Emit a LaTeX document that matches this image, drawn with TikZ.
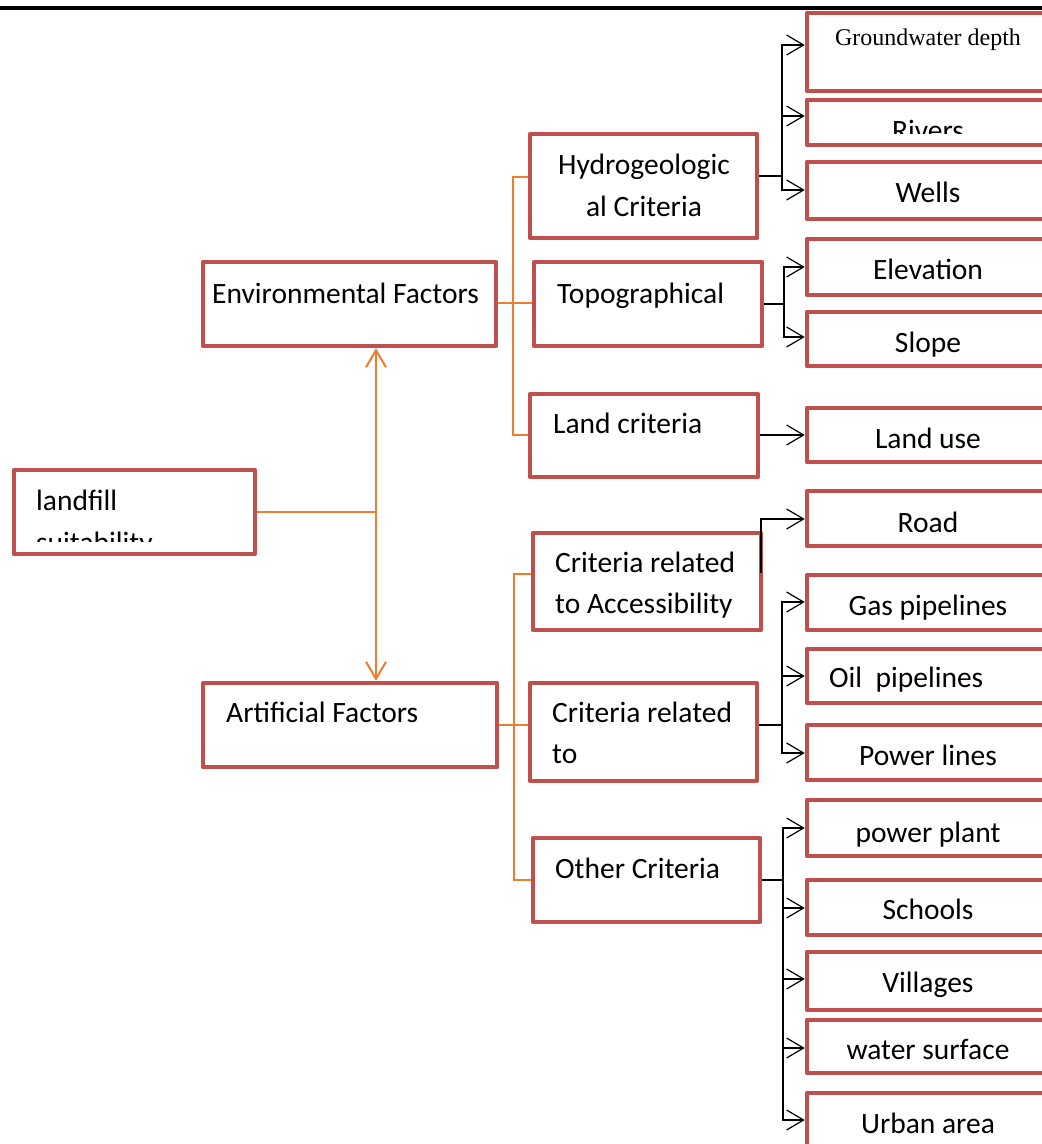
\documentclass[tikz,border=0pt]{standalone}
\usepackage{fontspec}
\setmainfont{Carlito}
\newfontfamily\serifgw{Liberation Serif}
\usetikzlibrary{arrows.meta,fit}
\definecolor{boxred}{HTML}{C0504D}
\definecolor{conorange}{HTML}{ED7D31}
\tikzset{
  box/.style={draw=boxred, line width=4.5pt, line join=round, inner sep=0pt},
  lbl/.style={inner sep=0pt, font=\fontsize{29.5}{35}\selectfont},
  bk/.style={draw=black, line width=1.5pt},
  orl/.style={draw=conorange, line width=2.4pt},
  opentip/.tip={Straight Barb[length=17pt,width=20pt,line width=1.2pt]},
  orangetip/.tip={Straight Barb[length=17pt,width=20pt,line width=2pt]},
}
\begin{document}
\begin{tikzpicture}[x=1pt,y=-1pt]
\clip (0,0) rectangle (1042,1144);
\fill[white] (0,0) rectangle (1042,1144);
\draw[line width=4pt] (0,8) -- (1042,8);

% main boxes
\node[box, fit={(14,470) (255,554)}] (lf) {};
\node[box, fit={(203,262) (496,346)}] (env) {};
\node[box, fit={(203,683) (497,767)}] (art) {};
\node[box, fit={(530,134) (757,238)}] (hyd) {};
\node[box, fit={(534,262) (762,346)}] (topo) {};
\node[box, fit={(530,394) (758,477)}] (land) {};
\node[box, fit={(533,533) (761,630)}] (acc) {};
\node[box, fit={(530,683) (757,781)}] (crit) {};
\node[box, fit={(533,838) (760,922)}] (oth) {};

% right boxes
\node[box, fit={(807,13) (1065,91)}] (gw) {};
\node[box, fit={(807,100) (1065,145)}] (riv) {};
\node[box, fit={(807,162) (1065,219)}] (wel) {};
\node[box, fit={(807,239) (1065,295)}] (ele) {};
\node[box, fit={(807,312) (1065,366)}] (slo) {};
\node[box, fit={(807,408) (1065,462)}] (lu) {};
\node[box, fit={(807,491) (1065,546)}] (road) {};
\node[box, fit={(807,575) (1065,630)}] (gas) {};
\node[box, fit={(807,649) (1065,703)}] (oil) {};
\node[box, fit={(807,725) (1065,780)}] (pow) {};
\node[box, fit={(807,800) (1065,856)}] (pp) {};
\node[box, fit={(807,880) (1065,935)}] (sch) {};
\node[box, fit={(807,952) (1065,1010)}] (vil) {};
\node[box, fit={(807,1020) (1065,1073)}] (ws) {};
\node[box, fit={(807,1093) (1065,1175)}] (ua) {};

% texts
\node[lbl, anchor=base west] (t1) at (36,510) {landfill};
\begin{scope}
\clip (0,0) rectangle (1042,541);
\node[lbl, anchor=base west] (t2) at (36,552) {suitability};
\end{scope}
\node[lbl, anchor=base west] (t3) at (212,303) {Environmental Factors};
\node[lbl, anchor=base west] (t4) at (226,722) {Artificial Factors};
\node[lbl, anchor=base] (t5) at (644,174) {Hydrogeologic};
\node[lbl, anchor=base] (t6) at (644,216) {al Criteria};
\node[lbl, anchor=base west] (t7) at (557,303) {Topographical};
\node[lbl, anchor=base west] (t8) at (553,433) {Land criteria};
\node[lbl, anchor=base west] (t9) at (555,572) {Criteria related};
\node[lbl, anchor=base west] (t10) at (555,613) {to Accessibility};
\node[lbl, anchor=base west] (t11) at (552,722) {Criteria related};
\node[lbl, anchor=base west] (t12) at (552,763) {to};
\node[lbl, anchor=base west] (t13) at (555,878) {Other Criteria};

\node[inner sep=0pt, anchor=base, font=\serifgw\fontsize{24}{28}\selectfont] (r1) at (928,45) {Groundwater depth};
\begin{scope}
\clip (0,0) rectangle (1042,133.3);
\node[lbl, anchor=base] (r2) at (928,140.5) {Rivers};
\end{scope}
\node[lbl, anchor=base] (r3) at (928,202) {Wells};
\node[lbl, anchor=base] (r4) at (928,279) {Elevation};
\node[lbl, anchor=base] (r5) at (928,352) {Slope};
\node[lbl, anchor=base] (r6) at (928,448) {Land use};
\node[lbl, anchor=base] (r7) at (928,532) {Road};
\node[lbl, anchor=base] (r8) at (928,615) {Gas pipelines};
\node[lbl, anchor=base west] (r9) at (829,687) {Oil\ \ pipelines};
\node[lbl, anchor=base] (r10) at (928,765) {Power lines};
\node[lbl, anchor=base] (r11) at (928,842) {power plant};
\node[lbl, anchor=base] (r12) at (928,919) {Schools};
\node[lbl, anchor=base] (r13) at (928,992) {Villages};
\node[lbl, anchor=base] (r14) at (928,1059) {water surface};
\node[lbl, anchor=base] (r15) at (928,1133) {Urban area};

% orange connectors
\draw[orl, -orangetip] (lf.east |- 0,512) -| (env.south -| 376,0);
\draw[orl, -orangetip] (lf.east |- 0,512) -| (art.north -| 376,0);
\draw[orl] (env.east |- 0,303) -- (topo.west |- 0,303);
\draw[orl] (env.east |- 0,303) -| (513,177) -- (hyd.west |- 0,177);
\draw[orl] (env.east |- 0,303) -| (513,435) -- (land.west |- 0,435);
\draw[orl] (art.east |- 0,725) -- (crit.west |- 0,725);
\draw[orl] (art.east |- 0,725) -| (514,574) -- (acc.west |- 0,574);
\draw[orl] (art.east |- 0,725) -| (514,880) -- (oth.west |- 0,880);

% black connectors
\draw[bk, -opentip] (hyd.east |- 0,176) -| (782,45) -- (gw.west |- 0,45);
\draw[bk, -opentip] (hyd.east |- 0,176) -| (782,116) -- (riv.west |- 0,116);
\draw[bk, -opentip] (hyd.east |- 0,176) -| (782,190) -- (wel.west |- 0,190);
\draw[bk, -opentip] (topo.east |- 0,304) -| (784,267) -- (ele.west |- 0,267);
\draw[bk, -opentip] (topo.east |- 0,304) -| (784,337) -- (slo.west |- 0,337);
\draw[bk, -opentip] (land.east |- 0,435) -- (lu.west |- 0,435);
\coordinate (accR) at (761,573);
\draw[bk, -opentip] (accR) |- (road.west |- 0,519);
\draw[bk, -opentip] (crit.east |- 0,725) -| (782,602) -- (gas.west |- 0,602);
\draw[bk, -opentip] (crit.east |- 0,725) -| (782,676) -- (oil.west |- 0,676);
\draw[bk, -opentip] (crit.east |- 0,725) -| (782,753) -- (pow.west |- 0,753);
\draw[bk, -opentip] (oth.east |- 0,880) -| (783,828) -- (pp.west |- 0,828);
\draw[bk, -opentip] (oth.east |- 0,880) -| (783,908) -- (sch.west |- 0,908);
\draw[bk, -opentip] (oth.east |- 0,880) -| (783,979) -- (vil.west |- 0,979);
\draw[bk, -opentip] (oth.east |- 0,880) -| (783,1048) -- (ws.west |- 0,1048);
\draw[bk, -opentip] (oth.east |- 0,880) -| (783,1120) -- (ua.west |- 0,1120);
\end{tikzpicture}
\end{document}
